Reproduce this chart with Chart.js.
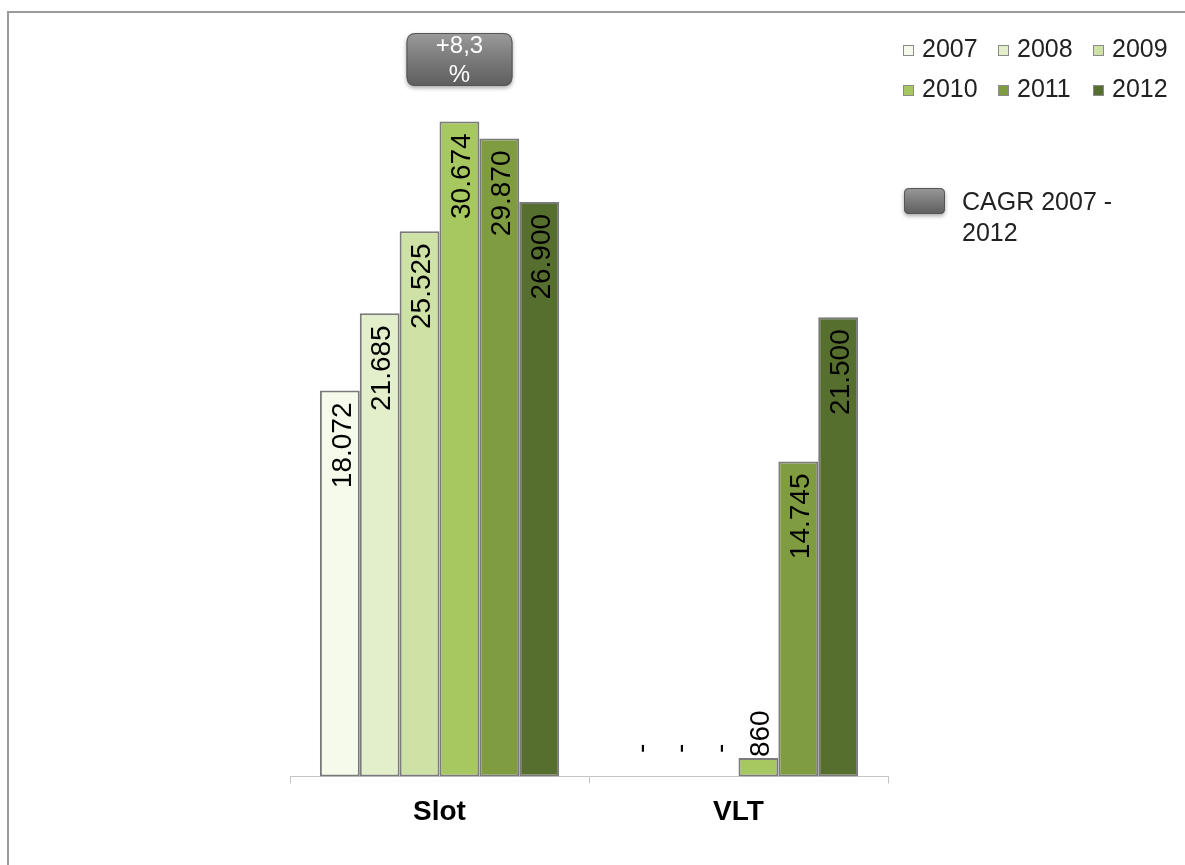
<!DOCTYPE html>
<html>
<head>
<meta charset="utf-8">
<script src="https://cdn.jsdelivr.net/npm/chart.js@4.4.1/dist/chart.umd.min.js"></script>
<style>
  html, body { margin: 0; padding: 0; background: #fff; }
  #wrap { width: 1185px; height: 865px; position: relative; }
</style>
</head>
<body>
<div id="wrap"><canvas id="slotChart"></canvas></div>
<script>
// categories and yearly values (units)
const categories = ['Slot', 'VLT'];
const years = ['2007', '2008', '2009', '2010', '2011', '2012'];
const slotValues = [18072, 21685, 25525, 30674, 29870, 26900];
const vltValues = [0, 0, 0, 860, 14745, 21500];
const yearColors = ['#f6faea', '#e3efcb', '#cfe2a6', '#a7c760', '#7f9c40', '#566e2e'];
const cagrLines = ['+8,3', '%'];
const cagrLegend = ['CAGR 2007 -', '2012'];

const FONT = '"Liberation Sans", Arial, sans-serif';

// 18072 -> "18.072"
function fmt(v) {
  return String(v).replace(/\B(?=(\d{3})+(?!\d))/g, '.');
}

function roundRect(ctx, x, y, w, h, r) {
  ctx.beginPath();
  ctx.moveTo(x + r, y);
  ctx.lineTo(x + w - r, y);
  ctx.quadraticCurveTo(x + w, y, x + w, y + r);
  ctx.lineTo(x + w, y + h - r);
  ctx.quadraticCurveTo(x + w, y + h, x + w - r, y + h);
  ctx.lineTo(x + r, y + h);
  ctx.quadraticCurveTo(x, y + h, x, y + h - r);
  ctx.lineTo(x, y + r);
  ctx.quadraticCurveTo(x, y, x + r, y);
  ctx.closePath();
}

function greyBox(ctx, x, y, w, h, r) {
  ctx.save();
  ctx.shadowColor = 'rgba(0,0,0,0.35)';
  ctx.shadowBlur = 4;
  ctx.shadowOffsetY = 2;
  const g = ctx.createLinearGradient(0, y, 0, y + h);
  g.addColorStop(0, '#9a9a9a');
  g.addColorStop(0.5, '#7a7a7a');
  g.addColorStop(1, '#5e5e5e');
  roundRect(ctx, x, y, w, h, r);
  ctx.fillStyle = g;
  ctx.fill();
  ctx.restore();
  ctx.save();
  roundRect(ctx, x + 0.5, y + 0.5, w - 1, h - 1, r);
  ctx.strokeStyle = '#555';
  ctx.lineWidth = 1;
  ctx.stroke();
  ctx.restore();
}

// white page with grey frame on left and top
const framePlugin = {
  id: 'frame',
  beforeDraw(chart) {
    const ctx = chart.ctx;
    ctx.save();
    ctx.fillStyle = '#fff';
    ctx.fillRect(0, 0, chart.width, chart.height);
    ctx.strokeStyle = '#9a9a9a';
    ctx.lineWidth = 2;
    ctx.beginPath();
    ctx.moveTo(8, chart.height);
    ctx.lineTo(8, 12);
    ctx.lineTo(chart.width, 12);
    ctx.stroke();
    ctx.restore();
  }
};

// rotated value labels inside bar tops
const valueLabels = {
  id: 'valueLabels',
  afterDatasetsDraw(chart) {
    const ctx = chart.ctx;
    ctx.save();
    ctx.fillStyle = '#000';
    ctx.font = '28px ' + FONT;
    ctx.textBaseline = 'middle';
    chart.data.datasets.forEach((ds, i) => {
      chart.getDatasetMeta(i).data.forEach((bar, j) => {
        const v = ds.data[j];
        const x = bar.x + 3;
        ctx.save();
        if (v === 0) {
          ctx.translate(x, bar.base - 28);
          ctx.rotate(-Math.PI / 2);
          ctx.textAlign = 'center';
          ctx.fillText('-', 0, 0);
        } else if (bar.base - bar.y < 120) {
          ctx.translate(x, bar.y - 1);
          ctx.rotate(-Math.PI / 2);
          ctx.textAlign = 'left';
          ctx.fillText(fmt(v), 0, 0);
        } else {
          ctx.translate(x, bar.y + 12);
          ctx.rotate(-Math.PI / 2);
          ctx.textAlign = 'right';
          ctx.fillText(fmt(v), 0, 0);
        }
        ctx.restore();
      });
    });
    ctx.restore();
  }
};

// CAGR bubble over Slot and the legend block at top right
const extras = {
  id: 'extras',
  afterDraw(chart) {
    const ctx = chart.ctx;
    const xs = chart.scales.x;

    const cx = xs.getPixelForValue(0) + 20;
    greyBox(ctx, cx - 53, 33, 106, 53, 9);
    ctx.save();
    ctx.fillStyle = '#fff';
    ctx.font = '24px ' + FONT;
    ctx.textAlign = 'center';
    ctx.textBaseline = 'middle';
    ctx.fillText(cagrLines[0], cx, 46);
    ctx.fillText(cagrLines[1], cx, 75);
    ctx.restore();

    // year legend, 3 per row
    ctx.save();
    ctx.font = '25px ' + FONT;
    ctx.textBaseline = 'middle';
    ctx.textAlign = 'left';
    chart.data.datasets.forEach((ds, i) => {
      const col = i % 3, row = Math.floor(i / 3);
      const bx = 903 + col * 95, by = 50 + row * 40;
      ctx.fillStyle = ds.backgroundColor;
      ctx.fillRect(bx, by - 5, 11, 11);
      ctx.strokeStyle = '#8a8a8a';
      ctx.lineWidth = 1;
      ctx.strokeRect(bx + 0.5, by - 4.5, 10, 10);
      ctx.fillStyle = '#222';
      ctx.fillText(ds.label, bx + 19, by);
    });
    ctx.restore();

    greyBox(ctx, 904, 188, 41, 26, 5);
    ctx.save();
    ctx.font = '25px ' + FONT;
    ctx.fillStyle = '#222';
    ctx.textBaseline = 'middle';
    ctx.fillText(cagrLegend[0], 962, 203);
    ctx.fillText(cagrLegend[1], 962, 234);
    ctx.restore();
  }
};

new Chart(document.getElementById('slotChart'), {
  type: 'bar',
  data: {
    labels: categories,
    datasets: years.map((y, i) => ({
      label: y,
      data: [slotValues[i], vltValues[i]],
      backgroundColor: yearColors[i],
      borderColor: '#7a7a7a',
      borderWidth: 2,
      borderSkipped: false,
      categoryPercentage: 0.8,
      barPercentage: 1.0
    }))
  },
  options: {
    responsive: true,
    maintainAspectRatio: false,
    animation: false,
    layout: { padding: { left: 290, right: 297, top: 29, bottom: 24 } },
    plugins: {
      legend: { display: false },
      tooltip: { enabled: false }
    },
    scales: {
      x: {
        grid: {
          drawOnChartArea: false,
          color: '#c4c4c4',
          tickLength: 7
        },
        border: { color: '#c4c4c4', width: 1 },
        ticks: {
          color: '#000',
          padding: 12,
          font: { family: FONT, size: 28, weight: 'bold' }
        }
      },
      y: {
        display: false,
        min: 0,
        max: 35000
      }
    }
  },
  plugins: [framePlugin, valueLabels, extras]
});
</script>
</body>
</html>
